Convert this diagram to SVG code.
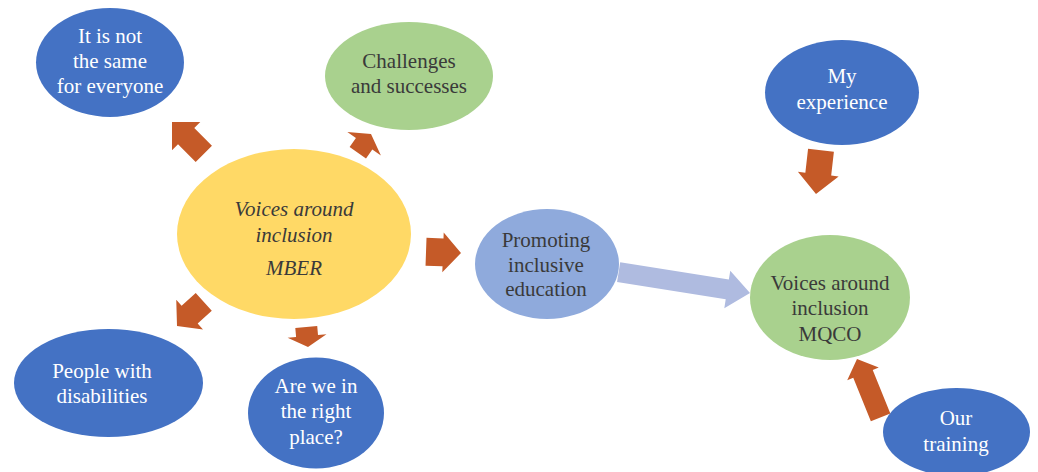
<svg xmlns="http://www.w3.org/2000/svg" width="1038" height="472" viewBox="0 0 1038 472">
  <style>
    text { font-family: "Liberation Serif", "DejaVu Serif", serif; font-size: 21px; text-anchor: middle; }
    .dark { fill: #3a3a3a; }
    .light { fill: #ffffff; }
    .it { font-style: italic; }
    .blue { fill: #4472C4; }
    .green { fill: #A9D18E; }
    .yellow { fill: #FFD966; }
    .steel { fill: #8FAADC; }
    .arrow { fill: #C55A28; }
    .flow { fill: #AFBBE0; }
  </style>
  <rect width="1038" height="472" fill="#ffffff"/>

  <g id="node-not-same">
    <ellipse class="blue" cx="110" cy="62.5" rx="74" ry="54.5"/>
    <text class="light" x="110" y="43">It is not</text>
    <text class="light" x="110" y="68">the same</text>
    <text class="light" x="110" y="93">for everyone</text>
  </g>

  <g id="node-challenges">
    <ellipse class="green" cx="409" cy="76" rx="84" ry="54"/>
    <text class="dark" x="409" y="68">Challenges</text>
    <text class="dark" x="409" y="93">and successes</text>
  </g>

  <g id="node-experience">
    <ellipse class="blue" cx="842" cy="92.5" rx="77" ry="52.5"/>
    <text class="light" x="842" y="83">My</text>
    <text class="light" x="842" y="109">experience</text>
  </g>

  <g id="node-mber">
    <ellipse class="yellow" cx="294" cy="234" rx="117" ry="85"/>
    <text class="dark it" x="294" y="216">Voices around</text>
    <text class="dark it" x="294" y="242">inclusion</text>
    <text class="dark it" x="294" y="275">MBER</text>
  </g>

  <g id="node-promoting">
    <ellipse class="steel" cx="547" cy="264" rx="72" ry="55"/>
    <text class="dark" x="546" y="247">Promoting</text>
    <text class="dark" x="546" y="272">inclusive</text>
    <text class="dark" x="546" y="296">education</text>
  </g>

  <g id="node-mqco">
    <ellipse class="green" cx="830" cy="297.5" rx="80" ry="62.5"/>
    <text class="dark" x="830" y="290">Voices around</text>
    <text class="dark" x="830" y="315">inclusion</text>
    <text class="dark" x="830" y="341">MQCO</text>
  </g>

  <g id="node-disabilities">
    <ellipse class="blue" cx="108.5" cy="383" rx="94.5" ry="54"/>
    <text class="light" x="102" y="378">People with</text>
    <text class="light" x="102" y="403">disabilities</text>
  </g>

  <g id="node-right-place">
    <ellipse class="blue" cx="316" cy="413" rx="68" ry="55.5"/>
    <text class="light" x="316" y="393">Are we in</text>
    <text class="light" x="316" y="418">the right</text>
    <text class="light" x="316" y="444">place?</text>
  </g>

  <g id="node-training">
    <ellipse class="blue" cx="956.5" cy="432" rx="73.5" ry="44"/>
    <text class="light" x="956" y="425">Our</text>
    <text class="light" x="956" y="451">training</text>
  </g>

  <!-- block arrows: tip at the local origin, pointing along +x -->
  <g id="connectors">
    <polygon class="arrow" transform="translate(172,122) rotate(225)" points="0,0 -20,-20 -20,-11.5 -45,-11.5 -45,11.5 -20,11.5 -20,20"/>
    <polygon class="arrow" transform="translate(371,134) rotate(-55)" points="0,0 -12,-20.5 -12,-10 -23,-10 -23,10 -12,10 -12,20.5"/>
    <polygon class="arrow" transform="translate(177,326) rotate(138)" points="0,0 -17,-20 -17,-12 -36,-12 -36,12 -17,12 -17,20"/>
    <polygon class="arrow" transform="translate(308,347) rotate(85)" points="0,0 -11,-19.5 -11,-11 -20,-11 -20,11 -11,11 -11,19.5"/>
    <polygon class="arrow" transform="translate(461,253) rotate(2)" points="0,0 -18,-20 -18,-14 -35,-14 -35,14 -18,14 -18,20"/>
    <polygon class="flow" transform="translate(750,293) rotate(9)" points="0,0 -23,-19 -23,-10 -133,-10 -133,10 -23,10 -23,19"/>
    <polygon class="arrow" transform="translate(816,194) rotate(96.5)" points="0,0 -20,-20.5 -20,-13 -44,-13 -44,13 -20,13 -20,20.5"/>
    <polygon class="arrow" transform="translate(857,359) rotate(-112)" points="0,0 -16,-17 -16,-10.5 -63,-10.5 -63,10.5 -16,10.5 -16,17"/>
  </g>
</svg>
